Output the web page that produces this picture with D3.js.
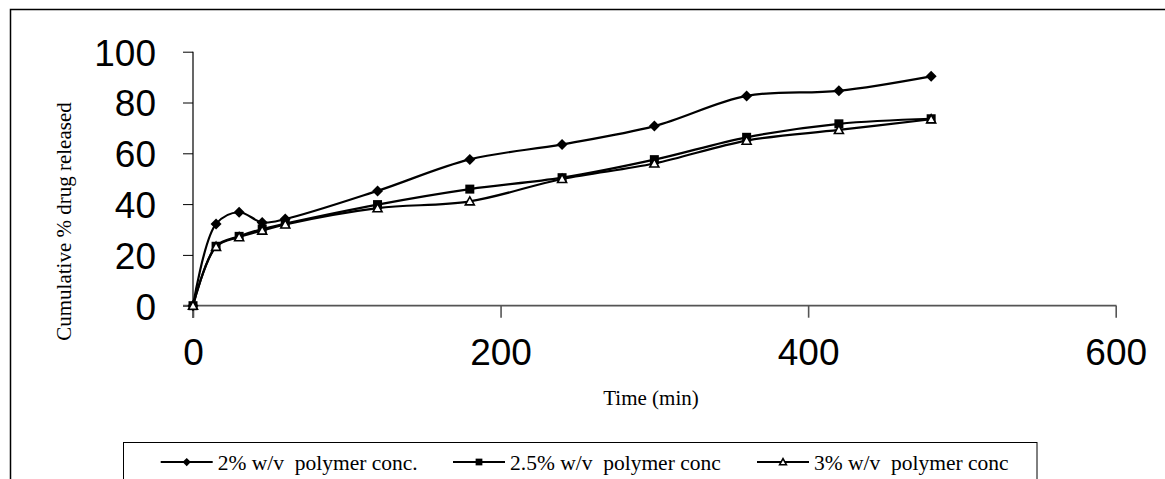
<!DOCTYPE html>
<html><head><meta charset="utf-8">
<script src="https://cdn.jsdelivr.net/npm/d3@7/dist/d3.min.js"></script>
<style>body{margin:0;background:#fff}svg{display:block}text{white-space:pre}</style>
</head><body>
<svg id="c" width="1165" height="479"></svg>
<script>
const times = [0, 15, 30, 45, 60, 120, 180, 240, 300, 360, 420, 480];
const s2 = [0, 32.2, 36.8, 32.8, 34.1, 45.2, 57.6, 63.5, 70.7, 82.6, 84.6, 90.3];
const s25 = [0, 23.4, 27.3, 30.2, 32.3, 39.8, 45.9, 50.4, 57.5, 66.3, 71.6, 73.6];
const s3 = [0, 23.2, 27.0, 29.6, 32.0, 38.4, 41.1, 49.9, 56.0, 65.0, 69.2, 73.4];
const seriesNames = ["2% w/v  polymer conc.", "2.5% w/v  polymer conc", "3% w/v  polymer conc"];
const xTicks = [0, 200, 400, 600];
const yTicks = [0, 20, 40, 60, 80, 100];

const svg = d3.select("#c");
// outer frame
svg.append("rect").attr("x", 10.5).attr("y", 9.5).attr("width", 1170).attr("height", 500)
  .attr("fill", "none").attr("stroke", "#000").attr("stroke-width", 1.5);

const x = d3.scaleLinear().domain([0, 600]).range([193, 1115.7]);
const y = d3.scaleLinear().domain([0, 100]).range([305.7, 51.7]);

// y axis
const gy = svg.append("g").attr("transform", "translate(193,0)")
  .call(d3.axisLeft(y).tickValues(yTicks).tickSize(10).tickPadding(27));
gy.select(".domain").remove();
gy.selectAll(".tick line").attr("stroke", "#000").attr("stroke-width", 1);
gy.selectAll(".tick text").attr("font-family", "Liberation Sans, Arial, sans-serif")
  .attr("font-size", 37).attr("fill", "#000").attr("dy", "0.36em");
svg.append("line").attr("x1", 193).attr("x2", 193).attr("y1", 51.7).attr("y2", 318)
  .attr("stroke", "#000").attr("stroke-width", 1.2);

// x axis
const gx = svg.append("g").attr("transform", "translate(0,305.7)")
  .call(d3.axisBottom(x).tickValues(xTicks).tickSize(12).tickPadding(21));
gx.select(".domain").remove();
gx.selectAll(".tick line").attr("stroke", "#555").attr("stroke-width", 1.6);
gx.selectAll(".tick text").attr("font-family", "Liberation Sans, Arial, sans-serif")
  .attr("font-size", 37).attr("fill", "#000");
svg.append("line").attr("x1", 183).attr("x2", 1116.5).attr("y1", 305.7).attr("y2", 305.7)
  .attr("stroke", "#555").attr("stroke-width", 1.8);

// axis titles
svg.append("text").attr("x", 651).attr("y", 405).attr("text-anchor", "middle")
  .attr("font-family", "Liberation Serif, Times New Roman, serif").attr("font-size", 21)
  .text("Time (min)");
svg.append("text").attr("transform", "translate(71,221.5) rotate(-90)").attr("text-anchor", "middle")
  .attr("font-family", "Liberation Serif, Times New Roman, serif").attr("font-size", 21)
  .text("Cumulative % drug released");

const all = [s2, s25, s3];
const line = d3.line().x((d, i) => x(times[i])).y(d => y(d)).curve(d3.curveCatmullRom.alpha(0.5));

function marker(g, type, cx, cy, scale) {
  const k = scale || 1;
  if (type === 0) {
    const r = 5.5 * k;
    g.append("path").attr("d", `M${cx},${cy - r}L${cx + r},${cy}L${cx},${cy + r}L${cx - r},${cy}Z`)
      .attr("fill", "#000");
  } else if (type === 1) {
    const h = 4.5 * k;
    g.append("rect").attr("x", cx - h).attr("y", cy - h).attr("width", 2 * h).attr("height", 2 * h)
      .attr("fill", "#000");
  } else {
    const h = 4.5 * k;
    g.append("path").attr("d", `M${cx},${cy - h}L${cx + h},${cy + h * 0.8}L${cx - h},${cy + h * 0.8}Z`)
      .attr("fill", "#fff").attr("stroke", "#000").attr("stroke-width", 1.6);
  }
}

all.forEach((s, si) => {
  svg.append("path").datum(s).attr("d", line).attr("fill", "none")
    .attr("stroke", "#000").attr("stroke-width", 2.2);
});
all.forEach((s, si) => {
  const g = svg.append("g");
  s.forEach((v, i) => marker(g, si, x(times[i]), y(v)));
});

// legend
svg.append("rect").attr("x", 123.5).attr("y", 442.5).attr("width", 913.5).attr("height", 60)
  .attr("fill", "#fff").attr("stroke", "#000").attr("stroke-width", 1);
const lx = [160.7, 453, 757];
seriesNames.forEach((n, i) => {
  const g = svg.append("g");
  g.append("line").attr("x1", lx[i]).attr("x2", lx[i] + 52).attr("y1", 462).attr("y2", 462)
    .attr("stroke", "#000").attr("stroke-width", 2);
  marker(g, i, lx[i] + 26, 462, 0.75);
  g.append("text").attr("x", lx[i] + 57).attr("y", 470)
    .attr("font-family", "Liberation Serif, Times New Roman, serif").attr("font-size", 21.5)
    .text(n);
});
</script>
</body></html>
